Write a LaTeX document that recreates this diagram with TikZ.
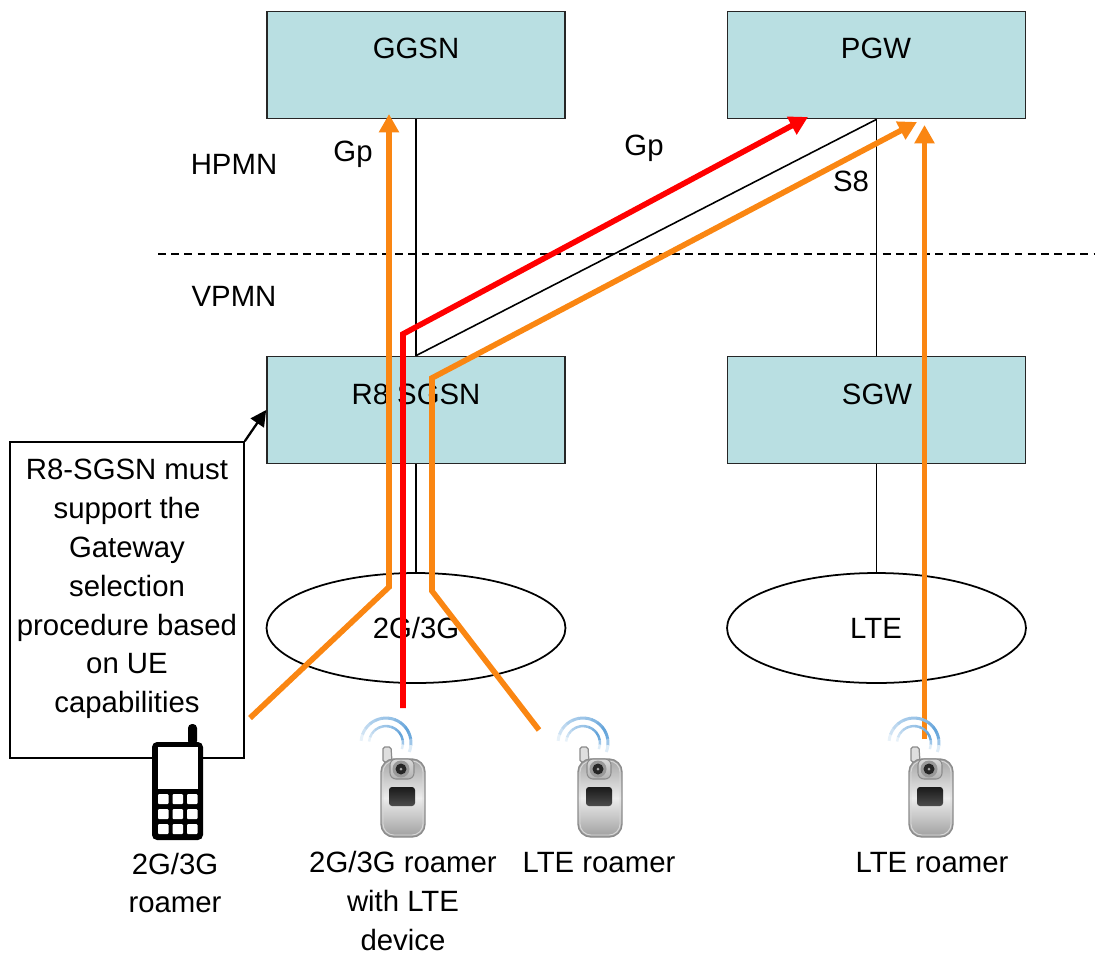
\documentclass[tikz,border=0pt]{standalone}
\usepackage{fontspec}
\setmainfont{Liberation Sans}
\usetikzlibrary{arrows.meta,shapes.geometric,calc}

\definecolor{boxblue}{HTML}{B9DFE2}
\definecolor{routeorange}{HTML}{FA8612}
\definecolor{signalblue}{HTML}{5C9FD8}

\tikzset{
  netbox/.style={draw=black!85, line width=1pt, fill=boxblue, minimum width=5.96cm, minimum height=2.14cm, inner sep=0pt},
  cell/.style={draw=black, line width=1pt, ellipse, minimum width=5.98cm, minimum height=2.2cm, inner sep=0pt},
  txt/.style={inner sep=0pt, align=center, font=\fontsize{16.7}{22.1}\selectfont},
  link/.style={draw=black, line width=0.9pt},
  orangeroute/.style={draw=routeorange, line width=3.2pt, -{Triangle[length=10.5pt,width=11pt]}},
  redroute/.style={draw=red, line width=3.2pt, -{Triangle[length=10.5pt,width=11pt]}},
  flipphone/.pic={
    \foreach \a/\m in {190/0,175/15,160/30,145/40,130/50,115/55,100/60,85/65,70/75,55/85,40/95,25/90,10/60,-5/20}{
      \draw[signalblue!\m, line width=1.7pt] ($(-17,-55)+(\a:0.5cm)$) arc[start angle=\a, end angle=\a-16, radius=0.5cm];
      \draw[signalblue!\m, line width=1.4pt] ($(-17,-55)+(\a:0.34cm)$) arc[start angle=\a, end angle=\a-16, radius=0.34cm];
    }
    \draw[gray!90, fill=gray!25, line width=0.7pt, rounded corners=1pt] (-20,-36) -- (-20,-51) -- (-12,-51) -- (-11,-36) -- cycle;
    \shade[draw=gray!90, line width=0.8pt, rounded corners=0.26cm, top color=gray!70, bottom color=gray!75, middle color=gray!15] (-22,-39) rectangle (22,39);
    \draw[white!70!gray, line width=0.5pt, rounded corners=0.22cm] (-20,-37) rectangle (20,37);
    \shade[draw=gray!90, line width=0.6pt, rounded corners=0.12cm, top color=gray!30, bottom color=gray!60] (-13,-39) rectangle (11,-19);
    \fill[gray!80] (-2,-29) circle (0.17cm);
    \fill[black!85] (-2,-29) circle (0.11cm);
    \fill[gray!70] (-2,-29) circle (0.03cm);
    \shade[rounded corners=0.06cm, top color=black!90, bottom color=black!70] (-14,-11) rectangle (12,8);
  }
}

\begin{document}
\begin{tikzpicture}[x=0.02cm, y=-0.02cm]
  \useasboundingbox (0,0) rectangle (1095,954);

  \node[netbox] (ggsn) at (416,65) {};
  \node[netbox] (pgw) at (876.5,65) {};
  \node[netbox] (sgsn) at (416,410) {};
  \node[netbox] (sgw) at (876.5,410) {};

  \node[cell] (ran) at (416,628) {};
  \node[cell] (lte) at (876.5,628) {};

  \draw[link] (ggsn) -- (sgsn);
  \draw[link] (sgsn.north) -- (pgw.south);
  \draw[link] (pgw) -- (sgw);
  \draw[link] (sgsn) -- (ran);
  \draw[link] (sgw) -- (lte);

  \node[txt] (ggsnlabel) at (416,48) {GGSN};
  \node[txt] (pgwlabel) at (876,48) {PGW};
  \node[txt] (sgsnlabel) at (416,394) {R8 SGSN};
  \node[txt] (sgwlabel) at (877,394) {SGW};
  \node[txt] (ranlabel) at (416,628) {2G/3G};
  \node[txt] (ltelabel) at (876,628) {LTE};

  \node[txt] (gpleft) at (353,154) {Gp};
  \node[txt] (gpright) at (644,148) {Gp};
  \node[txt] (seight) at (851,181) {S8};
  \node[txt] (hpmn) at (234,164) {HPMN};
  \node[txt] (vpmn) at (234,296) {VPMN};

  \coordinate (borderw) at (158,254);
  \coordinate (bordere) at (1095,254);
  \draw[black, line width=0.8pt, dash pattern=on 4.5pt off 3pt] (borderw) -- (bordere);

  \node[draw=black, fill=white, line width=0.9pt, minimum width=4.68cm, minimum height=6.32cm, inner sep=0pt] (note) at (127,600) {};
  \node[txt] (notetext) at (127,589) {R8-SGSN must\\support the\\Gateway\\selection\\procedure based\\on UE\\capabilities};
  \draw[black, line width=1.3pt, -{Triangle[length=9pt,width=9pt]}] (note.north east) -- (sgsn.west);

  % roamer routes
  \coordinate (aleft) at (250,718);
  \coordinate (abend) at (389,587);
  \coordinate (atip) at (389,114);
  \draw[orangeroute] (aleft) -- (abend) -- (atip);

  \coordinate (bfoot) at (403,708);
  \coordinate (bbend) at (403,334);
  \coordinate (btip) at (808,117);
  \draw[redroute] (bfoot) -- (bbend) -- (btip);

  \coordinate (cfoot) at (539,730);
  \coordinate (cbend) at (432,591);
  \coordinate (cknee) at (432,378);
  \coordinate (ctip) at (917,122);
  \draw[orangeroute] (cfoot) -- (cbend) -- (cknee) -- (ctip);

  \coordinate (dfoot) at (924.5,739);
  \coordinate (dtip) at (924.5,125);
  \draw[orangeroute] (dfoot) -- (dtip);

  % handsets
  \pic at (403,798) {flipphone};
  \pic at (600,798) {flipphone};
  \pic at (931,798) {flipphone};

  \fill[black, rounded corners=0.08cm] (188,745) -- (188,724) -- (197,724) -- (197,745) -- cycle;
  \fill[black, rounded corners=0.1cm] (152,742) rectangle (203,840);
  \fill[white] (158,747) rectangle (198,789);
  \foreach \kx in {158,172.5,187}{
    \foreach \ky in {794,809,824}{
      \fill[white, rounded corners=0.02cm] (\kx,\ky) rectangle (\kx+10.5,\ky+10);
    }
  }

  \node[txt] (roamera) at (175,883) {2G/3G\\roamer};
  \node[txt] (roamerb) at (403,901) {2G/3G roamer\\with LTE\\device};
  \node[txt] (roamerc) at (599,863) {LTE roamer};
  \node[txt] (roamerd) at (932,863) {LTE roamer};
\end{tikzpicture}
\end{document}
